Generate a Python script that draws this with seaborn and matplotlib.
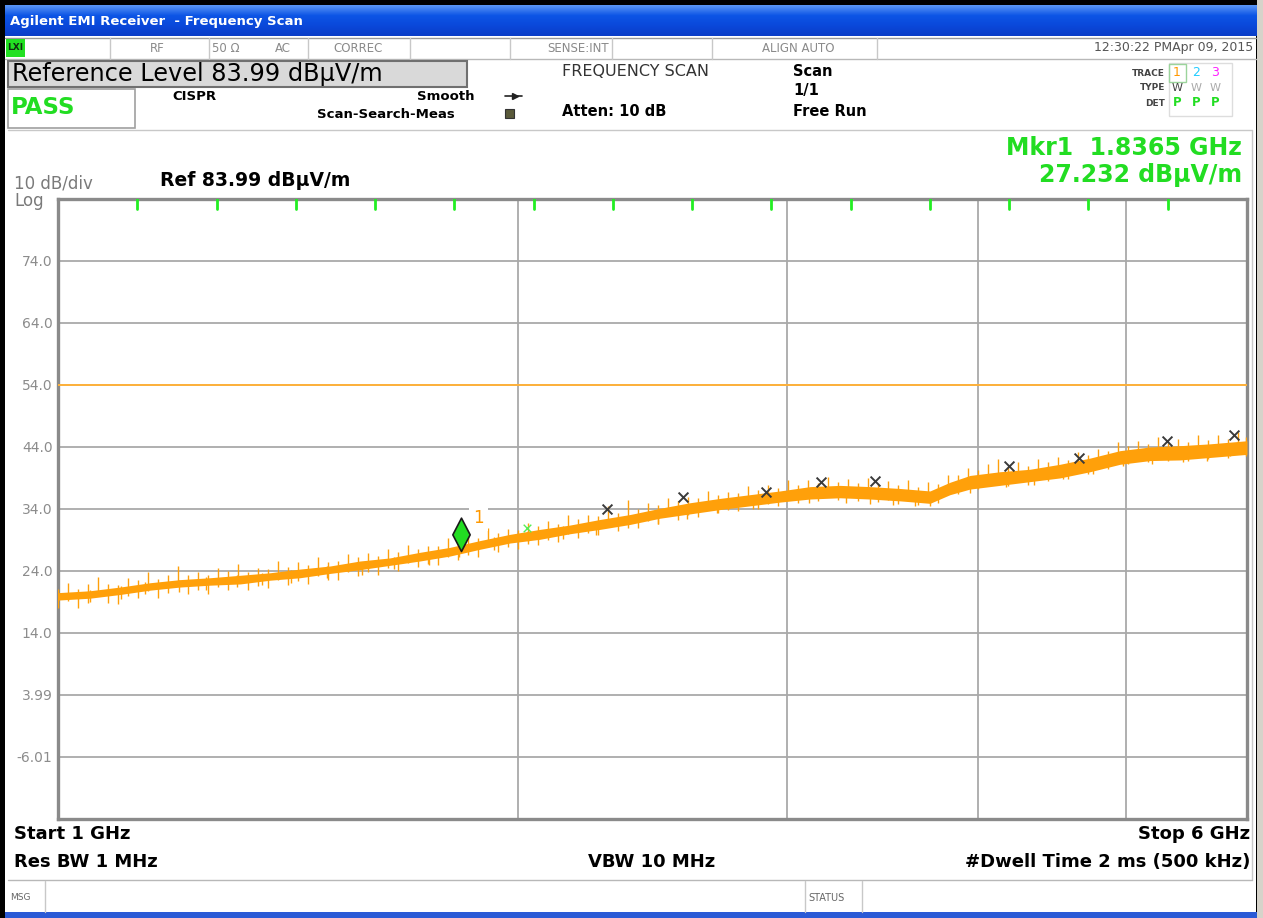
import matplotlib
matplotlib.use("Agg")
import matplotlib.pyplot as plt
from matplotlib.patches import Rectangle
from matplotlib.path import Path
from matplotlib.colors import LinearSegmentedColormap
from matplotlib.ticker import NullLocator
import numpy as np
import seaborn as sns

sns.set_style("white")
plt.rcParams['font.family'] = ['DejaVu Sans']

# trace envelope (GHz, dBuV/m)
freq = [1.000, 1.049, 1.098, 1.149, 1.202, 1.257, 1.316, 1.376, 1.440, 1.507,
        1.576, 1.649, 1.725, 1.805, 1.889, 1.976, 2.067, 2.163, 2.263, 2.368,
        2.477, 2.592, 2.712, 2.837, 2.968, 3.106, 3.249, 3.399, 3.557, 3.721,
        3.835, 3.952, 4.135, 4.326, 4.526, 4.736, 4.955, 5.184, 5.424, 5.674, 6.000]
trace_lo = [19.3, 19.6, 20.2, 20.9, 21.4, 21.7, 21.9, 22.5, 22.9, 23.6,
            24.2, 24.9, 25.6, 26.4, 27.5, 28.5, 29.1, 30.0, 30.7, 31.5,
            32.5, 33.2, 33.9, 34.5, 35.1, 35.6, 35.8, 35.6, 35.3, 34.9,
            36.3, 37.2, 37.8, 38.4, 39.0, 40.0, 41.2, 41.8, 41.9, 42.3, 42.8]
trace_hi = [20.5, 20.8, 21.4, 22.1, 22.6, 22.9, 23.3, 23.7, 24.3, 24.8,
            25.6, 26.1, 27.0, 27.8, 28.9, 29.9, 30.7, 31.4, 32.3, 33.1,
            34.1, 35.0, 35.7, 36.3, 36.9, 37.6, 37.8, 37.6, 37.3, 36.9,
            38.3, 39.4, 40.0, 40.4, 41.2, 42.2, 43.4, 44.0, 44.2, 44.5, 45.0]

# peak-detected column tops (noise above the band)
col_freq = [1.000, 1.015, 1.031, 1.046, 1.062, 1.078, 1.094, 1.111, 1.128, 1.145,
            1.163, 1.180, 1.198, 1.216, 1.235, 1.254, 1.273, 1.292, 1.312, 1.331,
            1.352, 1.372, 1.393, 1.414, 1.436, 1.458, 1.480, 1.502, 1.525, 1.548,
            1.572, 1.596, 1.620, 1.645, 1.669, 1.695, 1.721, 1.747, 1.773, 1.800,
            1.828, 1.856, 1.884, 1.912, 1.941, 1.971, 2.001, 2.031, 2.062, 2.093,
            2.125, 2.157, 2.190, 2.224, 2.257, 2.291, 2.326, 2.362, 2.397, 2.434,
            2.471, 2.508, 2.546, 2.585, 2.624, 2.664, 2.705, 2.746, 2.787, 2.830,
            2.873, 2.916, 2.960, 3.005, 3.051, 3.098, 3.145, 3.192, 3.241, 3.290,
            3.340, 3.391, 3.442, 3.494, 3.547, 3.602, 3.656, 3.712, 3.768, 3.825,
            3.884, 3.943, 4.002, 4.063, 4.125, 4.185, 4.249, 4.313, 4.379, 4.445,
            4.512, 4.580, 4.650, 4.721, 4.792, 4.865, 4.939, 5.014, 5.090, 5.168,
            5.246, 5.326, 5.406, 5.489, 5.572, 5.657, 5.743, 5.830, 5.919, 5.995]
col_top = [21.1, 22.1, 21.1, 21.9, 23.0, 21.9, 21.7, 22.9, 22.6, 23.8,
           22.7, 23.4, 24.8, 23.3, 23.9, 23.3, 24.4, 24.0, 25.1, 23.9,
           24.5, 24.3, 25.6, 24.7, 25.4, 24.9, 26.2, 25.5, 25.6, 26.8,
           26.2, 26.9, 26.4, 27.5, 27.0, 28.2, 27.6, 28.1, 28.0, 29.3,
           28.7, 29.6, 29.3, 30.9, 30.1, 30.8, 30.6, 31.8, 31.2, 32.0,
           31.6, 33.0, 32.3, 33.1, 32.8, 34.5, 33.4, 35.4, 34.0, 35.0,
           34.6, 35.8, 35.2, 36.0, 35.7, 36.9, 36.3, 36.8, 36.6, 37.7,
           37.0, 37.8, 37.4, 38.6, 37.9, 38.7, 38.2, 39.1, 38.4, 38.9,
           38.2, 39.0, 38.1, 38.5, 37.8, 38.7, 37.6, 38.3, 38.0, 39.5,
           39.4, 40.6, 40.2, 41.3, 42.0, 40.7, 41.6, 40.9, 42.0, 41.5,
           42.3, 41.9, 43.2, 42.7, 43.6, 43.4, 44.8, 44.2, 45.0, 44.5,
           45.6, 44.7, 45.3, 44.8, 46.0, 45.1, 45.9, 45.2, 46.4, 45.6]

# noise dips below the band
dip_freq = [1.05, 1.10, 1.14, 1.20, 1.25, 1.31, 1.36, 1.42, 1.50, 1.58,
            1.66, 1.75, 1.83, 1.93, 2.03, 2.14, 2.25, 2.36, 2.47, 2.58,
            2.70, 2.85, 3.10, 3.28, 3.40, 3.52, 3.64, 3.72, 3.95, 4.17,
            4.35, 4.55, 4.76, 4.98, 5.20, 5.45, 5.65, 5.85]
dip_bot = [19.0, 19.5, 20.2, 20.6, 21.0, 21.4, 21.7, 22.1, 22.8, 23.4,
           24.3, 25.0, 26.3, 27.4, 28.4, 29.2, 29.8, 30.9, 31.6, 32.4,
           33.3, 34.0, 34.9, 34.9, 34.8, 34.6, 34.4, 34.5, 36.6, 37.6,
           37.9, 38.8, 39.6, 40.9, 41.3, 41.6, 41.8, 42.5]

# peak search results (x marks)
peak_freq = [2.287, 2.565, 2.906, 3.158, 3.425, 4.193, 4.659, 5.318, 5.885]
peak_level = [34.0, 35.9, 36.7, 38.4, 38.5, 40.9, 42.2, 45.0, 45.9]
search_freq = [2.027]
search_level = [30.9]

mkr_freq = 1.8365
mkr_level = 27.232

limit_freq = [1.0, 6.0]
limit_level = [54.0, 54.0]

ref_level = 83.99
bottom_level = -16.01
y_ticks = [74.0, 64.0, 54.0, 44.0, 34.0, 24.0, 14.0, 3.99, -6.01]
y_labels = ["74.0", "64.0", "54.0", "44.0", "34.0", "24.0", "14.0", "3.99", "-6.01"]
x_grid = [2, 3, 4, 5]

W, H = 1263, 918
fig = plt.figure(figsize=(W / 100, H / 100), dpi=100)
bg = fig.add_axes([0, 0, 1, 1])
bg.axis('off')


def box(x0, y0, x1, y1, fc='white', ec='none', lw=1.0, z=1):
    bg.add_patch(Rectangle((x0, y0), x1 - x0, y1 - y0, facecolor=fc, edgecolor=ec, lw=lw, zorder=z))


def hline(y, x0, x1, color='#c4c4c4', lw=1.0):
    bg.plot([x0, x1], [y, y], color=color, lw=lw, zorder=2)


def vline(x, y0, y1, color='#c4c4c4', lw=1.0):
    bg.plot([x, x], [y0, y1], color=color, lw=lw, zorder=2)


def label(x, y, s, size, color='black', weight='normal', ha='left'):
    bg.text(x, y, s, fontsize=size, color=color, fontweight=weight, ha=ha, va='center', zorder=5)


# window frame
box(0, 0, W, H, fc='black', z=0)
box(5, 36, 1256, 912, fc='white')
box(1257, 0, W, H, fc='#d6d3ca')
box(5, 912, 1257, H, fc='#2a5ad6')
title_cmap = LinearSegmentedColormap.from_list('xp', ['#5a95f5', '#0d55e6', '#0a48da', '#0a3dc8'])
bg.imshow(np.linspace(0, 1, 40).reshape(-1, 1), cmap=title_cmap, aspect='auto',
          extent=(5, 1257, 36, 5), zorder=1)
label(10, 21, "Agilent EMI Receiver  - Frequency Scan", 9.5, color='white', weight='bold')

# status row
hline(37.5, 5, 1256, color='#9a9a9a')
hline(59, 5, 1256, color='#b8b8b8')
for sx in [110, 209, 308, 410, 510, 612, 712, 877]:
    vline(sx, 38, 59, color='#c8c8c8')
box(6, 39, 25, 57, fc='#22e022', z=3)
label(7, 48, "LXI", 6.5, color='#103010', weight='bold')
grey = '#8a8a8a'
label(157, 48, "RF", 8.5, color=grey, ha='center')
label(226, 48, "50 Ω", 8.5, color=grey, ha='center')
label(283, 48, "AC", 8.5, color=grey, ha='center')
label(358, 48, "CORREC", 8.5, color=grey, ha='center')
label(609, 48, "SENSE:INT", 8.5, color=grey, ha='right')
label(798, 48, "ALIGN AUTO", 8.5, color=grey, ha='center')
label(1253, 48, "12:30:22 PMApr 09, 2015", 9, color='#555555', ha='right')

# header block
box(8, 61, 467, 87, fc='#d9d9d9', ec='#707070', lw=1.5, z=3)
label(12, 74, "Reference Level 83.99 dBμV/m", 17.3, color='black')
box(8, 89, 135, 128, fc='white', ec='#a0a0a0', lw=1.2, z=3)
label(11, 107, "PASS", 16.5, color='#22dd22', weight='bold')
label(172, 97, "CISPR", 9.5, weight='bold')
label(474, 97, "Smooth", 9.5, weight='bold', ha='right')
label(455, 115, "Scan-Search-Meas", 9.5, weight='bold', ha='right')
bg.plot([505, 522], [96, 96], color='#222222', lw=1.2, zorder=4)
bg.plot([515], [96], marker='>', ms=5, color='#222222', zorder=4)
box(505, 109, 514, 118, fc='#5a5a3a', ec='#333333', lw=0.8, z=4)
label(562, 71, "FREQUENCY SCAN", 11.5, color='#333333')
label(562, 112, "Atten: 10 dB", 10.5, weight='bold')
label(793, 71, "Scan", 10.5, weight='bold')
label(793, 90, "1/1", 10.5, weight='bold')
label(793, 112, "Free Run", 10.5, weight='bold')
box(1169, 63, 1232, 116, fc='white', ec='#dddddd', lw=1.0, z=3)
box(1169, 64, 1186, 82, fc='none', ec='#9bd49b', lw=1.0, z=4)
label(1165, 74, "TRACE", 6.5, color='#444444', weight='bold', ha='right')
label(1165, 88, "TYPE", 6.5, color='#444444', weight='bold', ha='right')
label(1165, 103, "DET", 6.5, color='#444444', weight='bold', ha='right')
for tx, num, ncol, wcol in [(1177, "1", '#ff9900', '#444444'),
                            (1196, "2", '#22ccff', '#aaaaaa'),
                            (1215, "3", '#ff22ff', '#aaaaaa')]:
    label(tx, 73, num, 9, color=ncol, ha='center')
    label(tx, 88, "W", 8, color=wcol, ha='center')
    label(tx, 103, "P", 8.5, color='#22dd22', weight='bold', ha='center')

hline(130, 8, 1252, color='#c8c8c8')
vline(1252, 130, 880, color='#c8c8c8')
hline(880, 8, 1252, color='#b8b8b8')

label(1242, 148, "Mkr1  1.8365 GHz", 17, color='#22dd22', weight='bold', ha='right')
label(1242, 175, "27.232 dBμV/m", 17, color='#22dd22', weight='bold', ha='right')
label(14, 183, "10 dB/div", 12, color='#7a7a7a')
label(14, 201, "Log", 12, color='#7a7a7a')
label(160, 180, "Ref 83.99 dBμV/m", 13.5, weight='bold')

# bottom annotations
label(14, 834, "Start 1 GHz", 13, weight='bold')
label(1250, 834, "Stop 6 GHz", 13, weight='bold', ha='right')
label(14, 862, "Res BW 1 MHz", 13, weight='bold')
label(652, 862, "VBW 10 MHz", 13, weight='bold', ha='center')
label(1250, 862, "#Dwell Time 2 ms (500 kHz)", 13, weight='bold', ha='right')
for sx in [45, 805, 862]:
    vline(sx, 881, 912, color='#c8c8c8')
label(10, 898, "MSG", 6.5, color='#666666')
label(808, 898, "STATUS", 7, color='#666666')

bg.set_xlim(0, W)
bg.set_ylim(H, 0)

# measurement graticule
ax = fig.add_axes([58 / W, 1 - 819 / H, (1247 - 58) / W, (819 - 199) / H])
ax.set_facecolor('white')
ax.set_xscale('log')
ax.set_xlim(1, 6)
ax.set_ylim(bottom_level, ref_level)
ax.set_yticks(y_ticks)
ax.set_yticklabels(y_labels)
ax.set_xticks(x_grid)
ax.set_xticklabels([])
ax.xaxis.set_minor_locator(NullLocator())
ax.tick_params(axis='both', length=0, pad=4, labelsize=10, labelcolor='#8c8c8c')
ax.grid(True, color='#a9a9a9', lw=1.3)
ax.set_axisbelow(True)
for sp in ax.spines.values():
    sp.set_color('#8a8a8a')
    sp.set_linewidth(2.4)
for i in range(1, 15):
    ax.plot([i / 15, i / 15], [1, 0.984], transform=ax.transAxes, color='#22ee22', lw=2, zorder=6)

trace_color = '#ffa00a'
sns.lineplot(x=limit_freq, y=limit_level, color='#ffb23a', lw=1.4, ax=ax, zorder=3)
ax.fill_between(freq, trace_lo, trace_hi, color=trace_color, lw=0, zorder=4)
ax.vlines(col_freq, [t - 3.0 for t in col_top], col_top, color=trace_color, lw=1.0, zorder=4)
ax.vlines(dip_freq, dip_bot, [b + 2.0 for b in dip_bot], color=trace_color, lw=1.0, zorder=4)
sns.scatterplot(x=peak_freq, y=peak_level, marker='x', color='#3a3a3a', s=50, linewidth=1.4,
                ax=ax, zorder=5)
sns.scatterplot(x=search_freq, y=search_level, marker='x', color='#55ee55', s=30, linewidth=1.0,
                ax=ax, zorder=5)

diamond = Path([(0, 0), (0.26, 0.5), (0, 1), (-0.26, 0.5), (0, 0)],
               [Path.MOVETO, Path.LINETO, Path.LINETO, Path.LINETO, Path.CLOSEPOLY])
ax.plot([mkr_freq], [mkr_level], marker=diamond, ms=48, mfc='#22dd22', mec='#1a1a1a',
        mew=1.2, ls='none', zorder=7)
ax.annotate("1", (mkr_freq, mkr_level), xytext=(12, 24), textcoords='offset points',
            color='#ff9900', fontsize=12, ha='center', va='center', zorder=7,
            bbox=dict(fc='white', ec='none', pad=3))

fig.savefig('out.png', dpi=100)
